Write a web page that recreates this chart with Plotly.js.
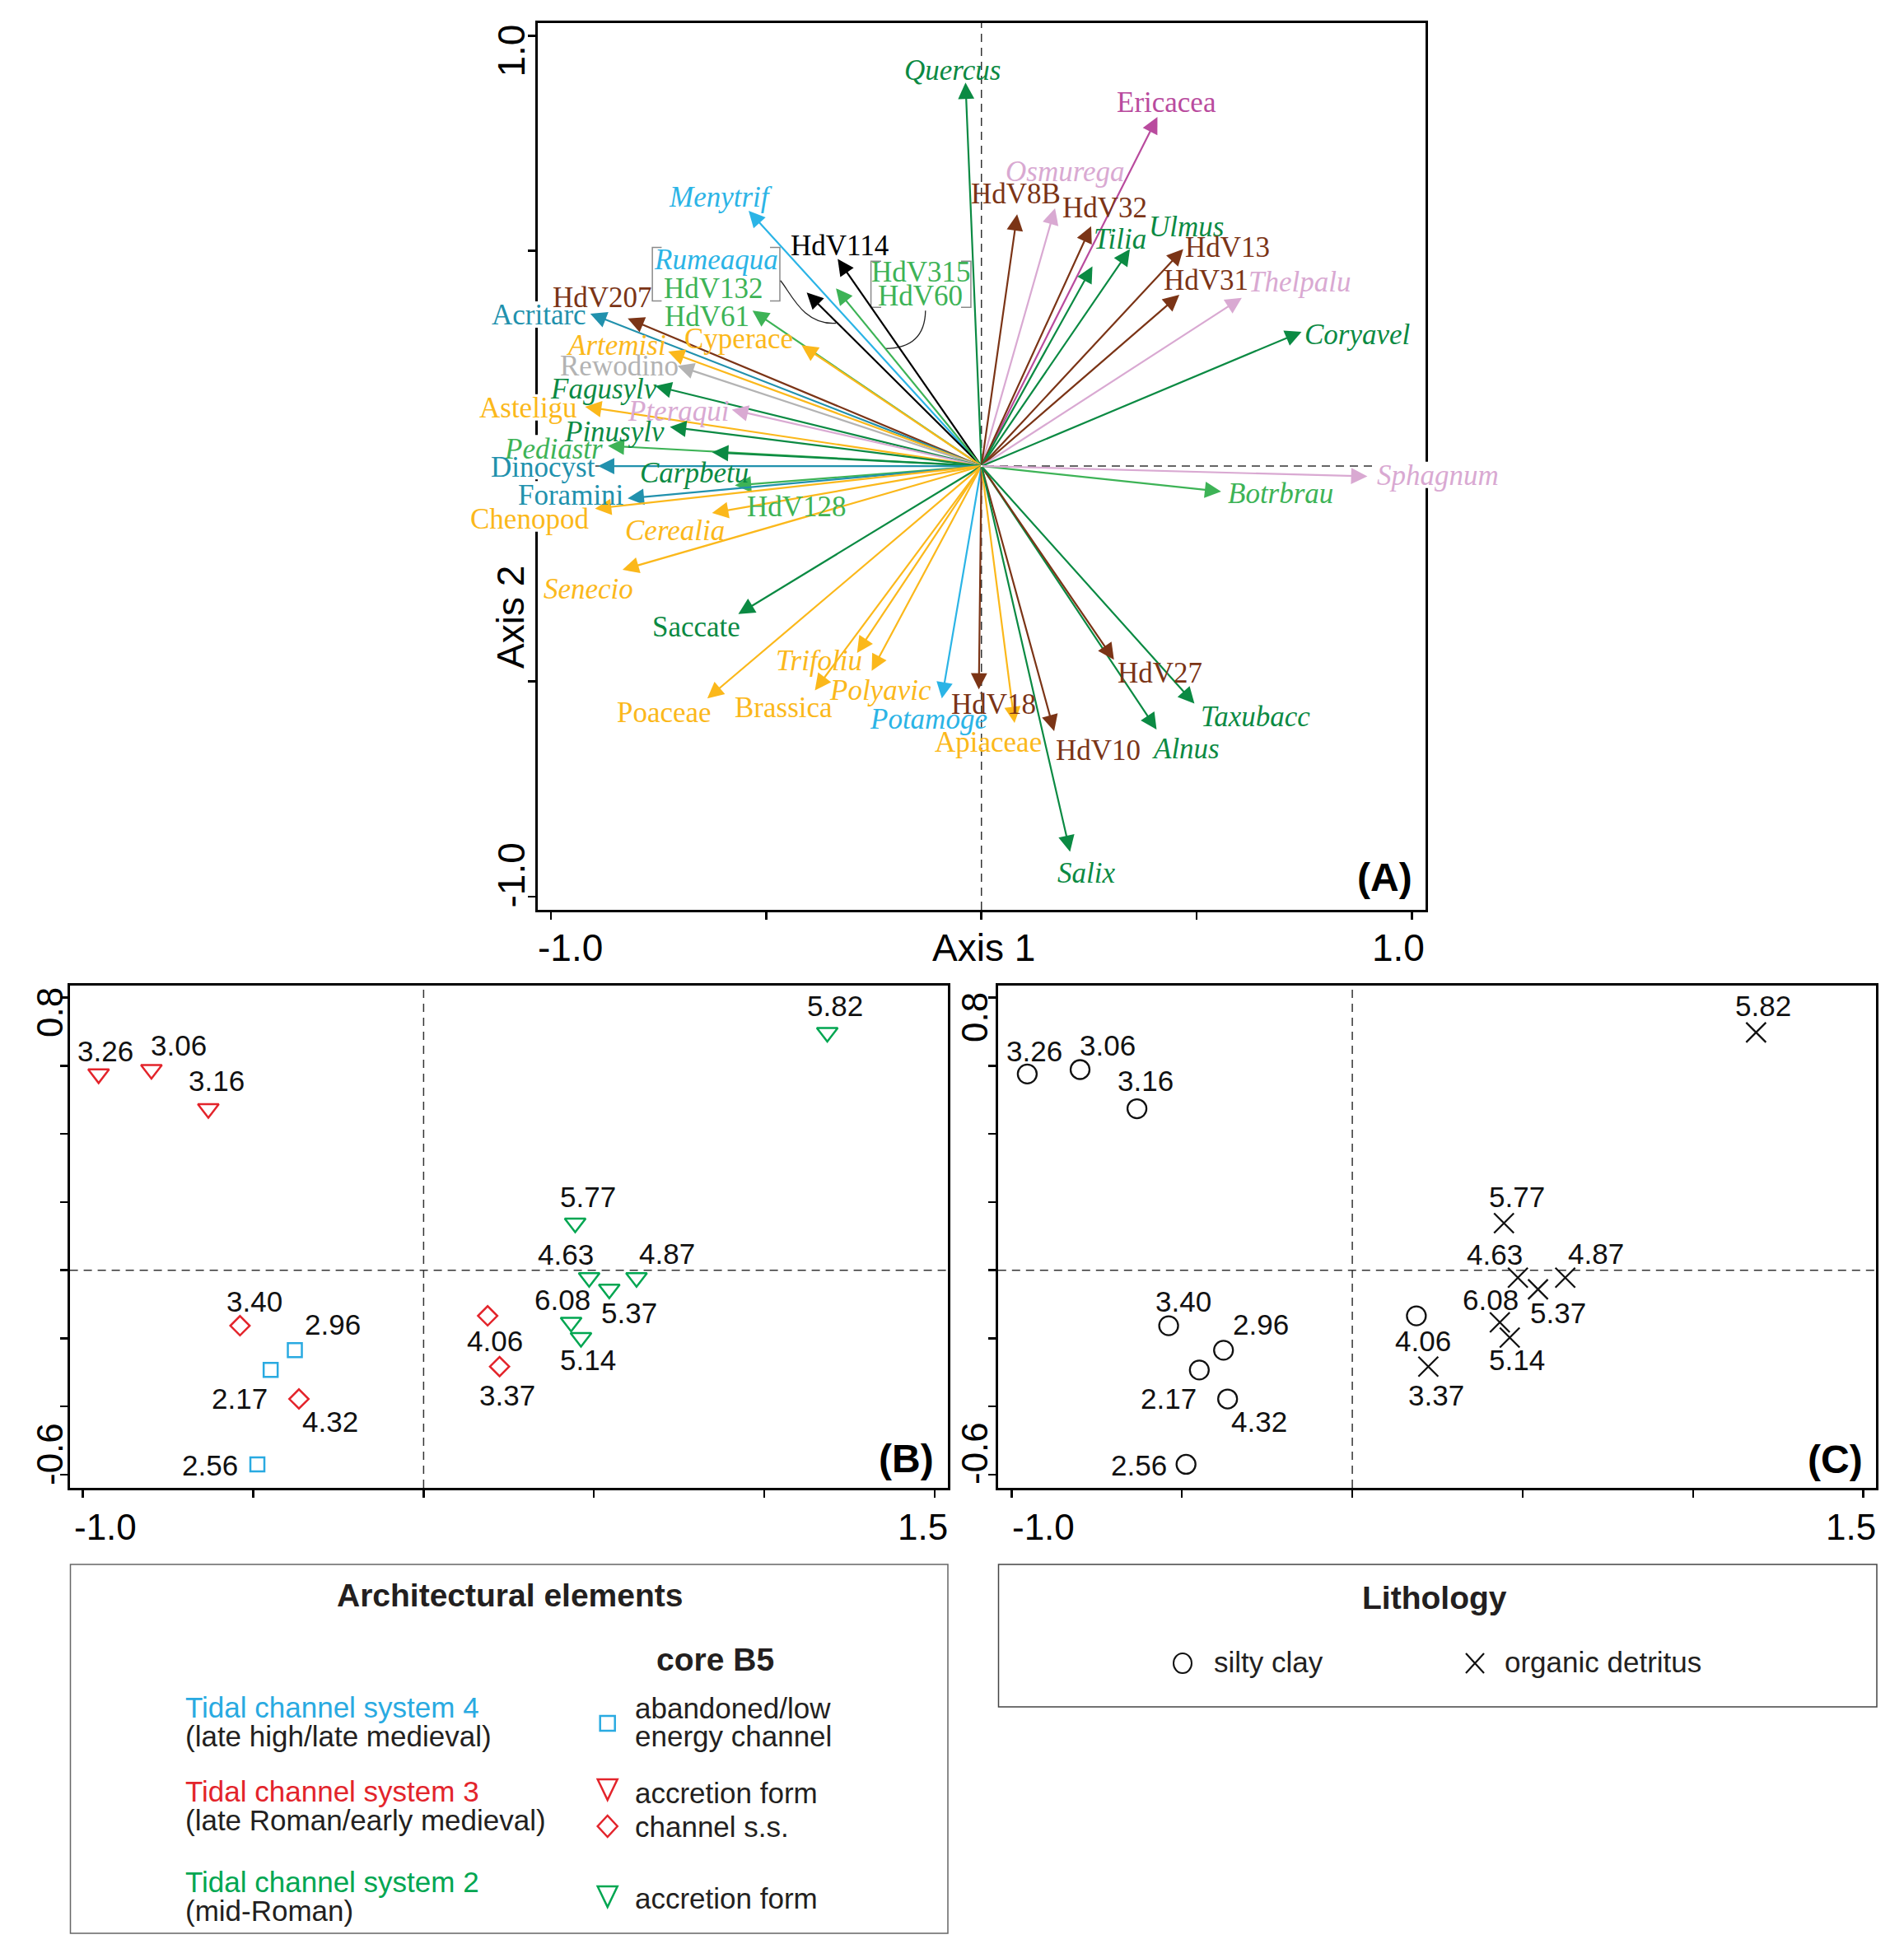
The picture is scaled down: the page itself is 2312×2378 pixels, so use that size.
<!DOCTYPE html>
<html><head><meta charset="utf-8">
<script src="https://cdn.plot.ly/plotly-3.0.1.min.js"></script>
<style>html,body{margin:0;padding:0;background:#fff;} #chart{width:2312px;height:2378px;}</style>
</head><body><div id="chart"></div>
<script>
// ================= DATA =================
// Panel A: CCA biplot arrows (tip coordinates on Axis 1 / Axis 2)
const arrowNames = ['Quercus','Ericacea','Menytrif','Osmurega','HdV8B','HdV32','HdV114','Tilia','Ulmus','HdV13','HdV31','Thelpalu','Coryavel','Rumeaqua + HdV132','HdV315 + HdV60','HdV61','Cyperace','HdV207','Acritarc','Artemisi','Rewodino','Fagusylv','Pteraqui','Asteligu','Pinusylv','Pediastr','Carpbetu','Dinocyst','HdV128','Foramini','Chenopod','Cerealia','Senecio','Saccate','Poaceae','Trifoliu','Brassica','Polyavic','Potamoge','HdV18','Apiaceae','HdV10','Alnus','HdV27','Taxubacc','Salix','Botrbrau','Sphagnum'];
const arrowAxis1 = [-0.037,0.409,-0.541,0.171,0.083,0.255,-0.334,0.258,0.345,0.469,0.460,0.605,0.744,-0.406,-0.338,-0.532,-0.418,-0.822,-0.909,-0.728,-0.706,-0.758,-0.580,-0.921,-0.724,-0.868,-0.626,-0.891,-0.573,-0.822,-0.898,-0.626,-0.834,-0.565,-0.637,-0.289,-0.387,-0.255,-0.092,-0.006,0.077,0.169,0.407,0.308,0.495,0.206,0.557,0.897];
const arrowAxis2 = [0.891,0.811,0.593,0.599,0.585,0.557,0.481,0.464,0.504,0.504,0.398,0.391,0.312,0.403,0.413,0.361,0.281,0.343,0.354,0.266,0.233,0.186,0.131,0.138,0.091,0.047,0.032,0.000,-0.045,-0.075,-0.099,-0.109,-0.241,-0.344,-0.540,-0.434,-0.521,-0.476,-0.540,-0.519,-0.597,-0.616,-0.612,-0.450,-0.552,-0.896,-0.059,-0.024];
const arrowGroup = ['trees','heath','aquatic','ferns','sites','sites','black','trees','trees','sites','sites','ferns','trees','black','green2','green2','herbs','sites','marine','herbs','gray','trees','ferns','herbs','trees','green2','trees','marine','green2','marine','herbs','herbs','herbs','trees','herbs','herbs','herbs','herbs','aquatic','sites','herbs','sites','trees','sites','trees','trees','green2','ferns'];

// Panel A labels
const labelText  = ['Quercus','Ericacea','Menytrif','Osmurega','HdV8B','HdV32','HdV114','Tilia','Ulmus','HdV13','HdV31','Thelpalu','Coryavel','Rumeaqua','HdV132','HdV315','HdV60','HdV61','Cyperace','HdV207','Acritarc','Artemisi','Rewodino','Fagusylv','Pteraqui','Asteligu','Pinusylv','Pediastr','Carpbetu','Dinocyst','HdV128','Foramini','Chenopod','Cerealia','Senecio','Saccate','Poaceae','Trifoliu','Brassica','Polyavic','Potamoge','HdV18','Apiaceae','HdV10','Alnus','HdV27','Taxubacc','Salix','Botrbrau','Sphagnum'];
const labelArrow = ['Quercus','Ericacea','Menytrif','Osmurega','HdV8B','HdV32','HdV114','Tilia','Ulmus','HdV13','HdV31','Thelpalu','Coryavel','Rumeaqua + HdV132','Rumeaqua + HdV132','HdV315 + HdV60','HdV315 + HdV60','HdV61','Cyperace','HdV207','Acritarc','Artemisi','Rewodino','Fagusylv','Pteraqui','Asteligu','Pinusylv','Pediastr','Carpbetu','Dinocyst','HdV128','Foramini','Chenopod','Cerealia','Senecio','Saccate','Poaceae','Trifoliu','Brassica','Polyavic','Potamoge','HdV18','Apiaceae','HdV10','Alnus','HdV27','Taxubacc','Salix','Botrbrau','Sphagnum'];
const labelGroup = ['trees','heath','aquatic','ferns','sites','sites','black','trees','trees','sites','sites','ferns','trees','aquatic','green2','green2','green2','green2','herbs','sites','marine','herbs','gray','trees','ferns','herbs','trees','green2','trees','marine','green2','marine','herbs','herbs','herbs','trees','herbs','herbs','herbs','herbs','aquatic','sites','herbs','sites','trees','sites','trees','trees','green2','ferns'];
const labelItalic = [1,0,1,1,0,0,0,1,1,0,0,1,1,1,0,0,0,0,0,0,0,1,0,1,1,0,1,1,1,0,0,0,0,1,1,0,0,1,0,1,1,0,0,0,1,0,1,1,1,1];

// Panels B and C: sample scores
const sampleDepth = ['3.26','3.06','3.16','3.40','2.96','2.17','4.32','2.56','4.06','3.37','5.82','5.77','4.63','4.87','5.37','6.08','5.14'];
const sampleAxis1 = [-0.954,-0.799,-0.632,-0.539,-0.378,-0.449,-0.366,-0.488,0.188,0.223,1.185,0.445,0.486,0.625,0.545,0.433,0.462];
const sampleAxis2 = [0.576,0.589,0.474,-0.163,-0.235,-0.293,-0.378,-0.570,-0.134,-0.283,0.698,0.138,-0.022,-0.022,-0.056,-0.153,-0.198];
const sampleElement = ['acc3','acc3','acc3','chan3','aband4','aband4','chan3','aband4','chan3','chan3','acc2','acc2','acc2','acc2','acc2','acc2','acc2'];
const sampleLithology = ['silty clay','silty clay','silty clay','silty clay','silty clay','silty clay','silty clay','silty clay','silty clay','organic detritus','organic detritus','organic detritus','organic detritus','organic detritus','organic detritus','organic detritus','organic detritus'];

// Tick labels
const tickLabelsA = ['-1.0','1.0'];
const tickLabelsBCx = ['-1.0','1.5'];
const tickLabelsBCy = ['0.8','-0.6'];
const tickValsA = [-1,-0.5,0,0.5,1];
const tickValsBCx = [-1,-0.5,0,0.5,1,1.5];
const tickValsBCy = [-0.6,-0.4,-0.2,0,0.2,0.4,0.6,0.8];

// Legend texts
const elementKeys = ['aband4','acc3','chan3','acc2'];
const elementNames = [['abandoned/low','energy channel'],['accretion form'],['channel s.s.'],['accretion form']];
const systemNames = ['Tidal channel system 4','Tidal channel system 3','Tidal channel system 2'];
const systemPeriods = ['(late high/late medieval)','(late Roman/early medieval)','(mid-Roman)'];
const lithologyNames = ['silty clay','organic detritus'];

// ================= STYLE =================
const W = 2312, H = 2378;
const px = X => X / W;
const py = Y => 1 - Y / H;
const serif = 'Liberation Serif, Times New Roman, serif';
const sans = 'Liberation Sans, Arial, sans-serif';
const groupColor = {trees:'#0b8a43', green2:'#3db356', herbs:'#fbb81b', marine:'#2191ad', aquatic:'#2bb4e6', sites:'#7b3416', ferns:'#d9a9d2', heath:'#b94b9e', gray:'#b3b3b3', black:'#000000'};
const labelDx = [-15.5,11.4,-34.5,12.7,-2,16.7,2,33.8,68,54,32.6,70,67.5,-109.8,-113.4,103,102,-55,-76.4,-31,-62.4,-63.3,-71,-62.5,-65.4,-68.5,-67.3,-66.2,-21.7,-66.3,75,-69,-80,-44.7,-41,-51.3,-52.8,-46.7,-37.8,10.5,-16.5,17.7,-32.3,53.4,35.5,56.2,73.6,19.7,72.6,86];
const labelDy = [14.3,17.2,16.6,44,24.8,22.2,16.1,32.5,26.8,1.9,17.2,19,-3.1,39.4,5.1,19.2,-9.5,-7.6,7.6,24.9,-1.9,7.7,0,-3.8,-1.9,-1.9,-5.7,-3.9,-24.8,-1.2,-25.5,4,-13,-21.8,-23.7,-15.8,-17.5,-9.8,-21.3,-23.6,-25.5,-17.8,-23.8,-23.8,-23.7,-15.9,-15.5,-25.6,-2.7,0.8];
// labels that mask the frame line behind them: [label, mask width px]
const labelMask = [['Acritarc',116],['Asteligu',120],['Pediastr',118],['Dinocyst',126],['Foramini',128],['Chenopod',146],['Sphagnum',150]];
const sampleDx = [8.4,33,10.5,17.5,45.6,-37.2,38.5,-57.5,8.5,9.8,9,16,-28,37,24.6,-11,9];
const sampleDy = [28,29.5,33.7,29.4,31.6,-34.5,-27.8,-1.2,-30.7,-34.5,32,32.4,28.2,29.5,-29,27.3,-26.5];
const elemStyle = {
  aband4:{symbol:'square-open', color:'#29aae1', size:17},
  acc3:{symbol:'triangle-down-open', color:'#e3242b', size:22},
  chan3:{symbol:'diamond-open', color:'#e3242b', size:18},
  acc2:{symbol:'triangle-down-open', color:'#00a651', size:22}
};
const lithStyle = {
  'silty clay':{symbol:'circle-open', size:23},
  'organic detritus':{symbol:'x-thin-open', size:24}
};
const systemColors = ['#29aae1','#e3242b','#00a651'];

// panel A geometry
const xDomA = [px(653), px(1731)], yDomA = [py(1105), py(27.6)];
const xRangeA = [-1.031, 1.032], yRangeA = [-1.031, 1.030];
const paperXA = v => xDomA[0] + (v - xRangeA[0]) / (xRangeA[1] - xRangeA[0]) * (xDomA[1] - xDomA[0]);
const paperYA = v => yDomA[0] + (v - yRangeA[0]) / (yRangeA[1] - yRangeA[0]) * (yDomA[1] - yDomA[0]);

// ================= BUILD =================
const traces = [];
elementKeys.forEach(k => {
  const idx = sampleElement.map((e,i)=> e===k ? i : -1).filter(i=>i>=0);
  traces.push({type:'scatter', mode:'markers', xaxis:'x2', yaxis:'y2', name:k,
    x: idx.map(i=>sampleAxis1[i]), y: idx.map(i=>sampleAxis2[i]), text: idx.map(i=>sampleDepth[i]),
    marker:{symbol:elemStyle[k].symbol, size:elemStyle[k].size, color:elemStyle[k].color, line:{color:elemStyle[k].color, width:2.5}},
    showlegend:false, hoverinfo:'text'});
});
lithologyNames.forEach(l => {
  const idx = sampleLithology.map((e,i)=> e===l ? i : -1).filter(i=>i>=0);
  traces.push({type:'scatter', mode:'markers', xaxis:'x3', yaxis:'y3', name:l,
    x: idx.map(i=>sampleAxis1[i]), y: idx.map(i=>sampleAxis2[i]), text: idx.map(i=>sampleDepth[i]),
    marker:{symbol:lithStyle[l].symbol, size:lithStyle[l].size, color:'#111', line:{color:'#111', width:2.3}},
    showlegend:false, hoverinfo:'text'});
});

const annotations = [];
const shapes = [];

// white masks behind some labels (hide the frame line under them); paper refs so they are not clipped
labelMask.forEach(([t,w]) => {
  const i = labelText.indexOf(t);
  const a = arrowNames.indexOf(labelArrow[i]);
  shapes.push({type:'rect', layer:'above', xref:'paper', yref:'paper', xsizemode:'pixel', ysizemode:'pixel',
    xanchor:paperXA(arrowAxis1[a]), yanchor:paperYA(arrowAxis2[a]),
    x0:labelDx[i]-w/2, x1:labelDx[i]+w/2, y0:labelDy[i]-15, y1:labelDy[i]+17,
    fillcolor:'#ffffff', line:{width:0}});
});
// arrows
arrowNames.forEach((n,i) => {
  annotations.push({xref:'x', yref:'y', axref:'x', ayref:'y', x:arrowAxis1[i], y:arrowAxis2[i], ax:0, ay:0,
    text:'', showarrow:true, arrowhead:2, arrowsize:1.8, arrowwidth:2.2, arrowcolor:groupColor[arrowGroup[i]], standoff:0});
});
// labels
labelText.forEach((t,i) => {
  const a = arrowNames.indexOf(labelArrow[i]);
  annotations.push({xref:'x', yref:'y', x:arrowAxis1[a], y:arrowAxis2[a], xshift:labelDx[i], yshift:labelDy[i],
    text: labelItalic[i] ? '<i>'+t+'</i>' : t, showarrow:false, xanchor:'center', yanchor:'middle',
    font:{family:serif, size:35, color:groupColor[labelGroup[i]]}});
});

// Brackets and connectors (panel A)
const bracketPaths = [
  'M -0.7431,0.5078 L -0.7647,0.5078 L -0.7647,0.3834 L -0.7431,0.3834',
  'M -0.4913,0.5078 L -0.4684,0.5078 L -0.4684,0.3834 L -0.4913,0.3834',
  'M -0.2330,0.4761 L -0.2567,0.4761 L -0.2567,0.3690 L -0.2330,0.3690',
  'M -0.0474,0.4761 L -0.0245,0.4761 L -0.0245,0.3690 L -0.0474,0.3690'
];
bracketPaths.forEach(p => shapes.push({type:'path', xref:'x', yref:'y', path:p, line:{color:'#8a8a8a', width:1.5}}));
const connectorPaths = [
  'M -0.467,0.431 C -0.443,0.403 -0.415,0.327 -0.338,0.332',
  'M -0.130,0.361 C -0.131,0.308 -0.156,0.273 -0.224,0.273'
];
connectorPaths.forEach(p => shapes.push({type:'path', xref:'x', yref:'y', path:p, line:{color:'#222', width:1.3}}));

// dashed zero lines
[['x','y'],['x2','y2'],['x3','y3']].forEach(([xa,ya]) => {
  shapes.push({type:'line', layer:'below', xref:xa, yref:ya+' domain', x0:0, x1:0, y0:0, y1:1, line:{color:'#333', width:1.5, dash:'10px,7px'}});
  shapes.push({type:'line', layer:'below', xref:xa+' domain', yref:ya, x0:0, x1:1, y0:0, y1:0, line:{color:'#333', width:1.5, dash:'10px,7px'}});
});

// sample labels B and C
[['x2','y2'],['x3','y3']].forEach(([xa,ya]) => {
  sampleDepth.forEach((d,i) => {
    annotations.push({xref:xa, yref:ya, x:sampleAxis1[i], y:sampleAxis2[i], xshift:sampleDx[i], yshift:sampleDy[i],
      text:d, showarrow:false, xanchor:'center', yanchor:'middle', font:{family:sans, size:35, color:'#111'}});
  });
});

// helper for paper-positioned text
function ptext(text, X, Y, opt) {
  opt = opt || {};
  annotations.push(Object.assign({xref:'paper', yref:'paper', x:px(X), y:py(Y), text:text, showarrow:false,
    xanchor:opt.xanchor || 'center', yanchor:'middle',
    font:{family:sans, size:opt.size || 46, color:opt.color || '#000'}}, opt.extra || {}));
}
// Panel A axis text
ptext(tickLabelsA[0], 692.6, 1151);
ptext(tickLabelsA[1], 1698, 1151);
ptext('Axis 1', 1194, 1151);
ptext(tickLabelsA[1], 620.5, 62, {extra:{textangle:-90}});
ptext(tickLabelsA[0], 620.5, 1063, {extra:{textangle:-90}});
ptext('Axis 2', 620, 750, {extra:{textangle:-90}});
ptext('<b>(A)</b>', 1681, 1065, {size:48});
// Panel B/C axis text
ptext(tickLabelsBCx[0], 128, 1854, {size:44});
ptext(tickLabelsBCx[1], 1120, 1854, {size:44});
ptext(tickLabelsBCy[0], 60, 1230, {size:44, extra:{textangle:-90}});
ptext(tickLabelsBCy[1], 60, 1766, {size:44, extra:{textangle:-90}});
ptext('<b>(B)</b>', 1100, 1771, {size:48});
ptext(tickLabelsBCx[0], 1267, 1854, {size:44});
ptext(tickLabelsBCx[1], 2247, 1854, {size:44});
ptext(tickLabelsBCy[0], 1183, 1236, {size:44, extra:{textangle:-90}});
ptext(tickLabelsBCy[1], 1183, 1765, {size:44, extra:{textangle:-90}});
ptext('<b>(C)</b>', 2228, 1772, {size:48});

// Legend B
shapes.push({type:'rect', xref:'paper', yref:'paper', x0:px(85.5), x1:px(1151), y0:py(2348), y1:py(1900), line:{color:'#666', width:1.5}});
ptext('<b>Architectural elements</b>', 619, 1937, {size:39, color:'#231f20'});
ptext('<b>core B5</b>', 868, 2015, {size:39, color:'#231f20'});
const sysY = [2073, 2175, 2285];
systemNames.forEach((s,i) => {
  ptext(s, 223, sysY[i], {size:35, color:systemColors[i], xanchor:'left'});
  ptext(systemPeriods[i], 223, sysY[i]+35, {size:35, color:'#231f20', xanchor:'left'});
});
const elemTextY = [2074, 2177, 2218, 2305];
elementNames.forEach((lines,i) => {
  lines.forEach((ln,j) => ptext(ln, 769, elemTextY[i] + j*34, {size:35, color:'#231f20', xanchor:'left'}));
});
// legend symbols (B)
const lx = 737.7;
const pth = pts => 'M ' + pts.map(p => px(p[0]) + ',' + py(p[1])).join(' L ') + ' Z';
shapes.push({type:'rect', xref:'paper', yref:'paper', x0:px(lx-9), x1:px(lx+9), y0:py(2102), y1:py(2084), line:{color:elemStyle.aband4.color, width:2.5}});
shapes.push({type:'path', xref:'paper', yref:'paper', path:pth([[lx-12,2161],[lx+12,2161],[lx,2186]]), line:{color:elemStyle.acc3.color, width:2.5}});
shapes.push({type:'path', xref:'paper', yref:'paper', path:pth([[lx,2205],[lx+12,2218],[lx,2231],[lx-12,2218]]), line:{color:elemStyle.chan3.color, width:2.5}});
shapes.push({type:'path', xref:'paper', yref:'paper', path:pth([[lx-12,2291],[lx+12,2291],[lx,2316]]), line:{color:elemStyle.acc2.color, width:2.5}});

// Legend C
shapes.push({type:'rect', xref:'paper', yref:'paper', x0:px(1212.5), x1:px(2279), y0:py(2073), y1:py(1900), line:{color:'#444', width:1.5}});
ptext('<b>Lithology</b>', 1742, 1940, {size:39, color:'#231f20'});
ptext(lithologyNames[0], 1472, 2018, {size:35, color:'#231f20', xanchor:'left'});
ptext(lithologyNames[1], 1825, 2018, {size:35, color:'#231f20', xanchor:'left'});
shapes.push({type:'circle', xref:'paper', yref:'paper', x0:px(1425), x1:px(1447), y0:py(2032), y1:py(2008), line:{color:'#111', width:2}});
shapes.push({type:'path', xref:'paper', yref:'paper', path:'M '+px(1780)+','+py(2008)+' L '+px(1802)+','+py(2032)+' M '+px(1802)+','+py(2008)+' L '+px(1780)+','+py(2032), line:{color:'#111', width:2.2}});

// axes
const axBase = {showline:true, mirror:true, linecolor:'#000', linewidth:3, ticks:'outside', ticklen:9, tickwidth:2.5, tickcolor:'#000',
  showticklabels:false, showgrid:false, zeroline:false, fixedrange:true};
const layout = {
  width:W, height:H, margin:{l:0,r:0,t:0,b:0}, paper_bgcolor:'#fff', plot_bgcolor:'#fff',
  font:{family:sans, color:'#000'}, showlegend:false,
  xaxis: Object.assign({}, axBase, {domain:xDomA, range:xRangeA, anchor:'y', tickvals:tickValsA}),
  yaxis: Object.assign({}, axBase, {domain:yDomA, range:yRangeA, anchor:'x', tickvals:tickValsA}),
  xaxis2: Object.assign({}, axBase, {domain:[px(84.6), px(1151)], range:[-1.039,1.539], anchor:'y2', tickvals:tickValsBCx}),
  yaxis2: Object.assign({}, axBase, {domain:[py(1807), py(1196.8)], range:[-0.639,0.836], anchor:'x2', tickvals:tickValsBCy}),
  xaxis3: Object.assign({}, axBase, {domain:[px(1211.8), px(2278)], range:[-1.040,1.537], anchor:'y3', tickvals:tickValsBCx}),
  yaxis3: Object.assign({}, axBase, {domain:[py(1807), py(1196.8)], range:[-0.639,0.836], anchor:'x3', tickvals:tickValsBCy}),
  annotations: annotations, shapes: shapes
};
Plotly.newPlot('chart', traces, layout, {displayModeBar:false, staticPlot:true});
</script>
</body></html>
